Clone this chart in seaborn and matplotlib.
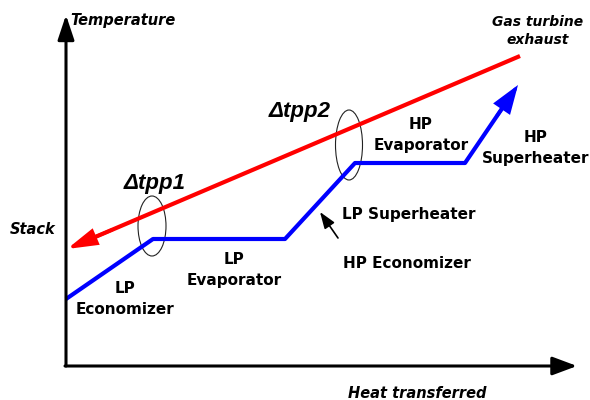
import matplotlib
matplotlib.use("Agg")
import matplotlib.pyplot as plt
import seaborn as sns
import pandas as pd
from matplotlib.patches import Ellipse

# ---- data (heat transferred vs temperature, arbitrary units) ----
gas_heat = [454, 1]          # gas turbine exhaust -> stack
gas_temp = [310, 117]
steam_heat = [0, 87, 219, 289, 399, 452]
steam_temp = [67, 127, 127, 203, 203, 281]
pinch_heat = [86, 283]
pinch_temp = [140, 221]
pinch_w = [28, 27]
pinch_h = [60, 70]

sns.set_theme(style="white")
plt.rcParams['font.family'] = ['DejaVu Sans']

fig = plt.figure(figsize=(5.9, 4), dpi=100)
ax = fig.add_axes([0, 0, 1, 1])
ax.set_xlim(-66, 524)
ax.set_ylim(-34, 366)
ax.axis('off')

def trim(xs, ys, frac):
    # end the line a little before the tip so the arrowhead covers it
    x0, y0, x1, y1 = xs[-2], ys[-2], xs[-1], ys[-1]
    return xs[:-1] + [x1 - (x1 - x0) * frac], ys[:-1] + [y1 - (y1 - y0) * frac]

gx, gy = trim(gas_heat, gas_temp, 0.03)
sx, sy = trim(steam_heat, steam_temp, 0.2)
sns.lineplot(x=gx, y=gy, sort=False, color="#ff0000", lw=3.0, ax=ax,
             solid_capstyle="butt", estimator=None)
sns.lineplot(x=sx, y=sy, sort=False, color="#0000ff", lw=3.0, ax=ax,
             solid_capstyle="butt", estimator=None)

def head(xs, ys, color, back=0.08, hl=0.8, hw=0.28):
    x0, y0, x1, y1 = xs[-2], ys[-2], xs[-1], ys[-1]
    start = (x1 - (x1 - x0) * back, y1 - (y1 - y0) * back)
    ax.annotate("", xy=(x1, y1), xytext=start,
                arrowprops=dict(arrowstyle=f"-|>,head_length={hl},head_width={hw}",
                                mutation_scale=20, color=color, lw=2.5,
                                shrinkA=0, shrinkB=0, joinstyle="miter"))

head(gas_heat, gas_temp, "#ff0000", back=0.1, hl=0.85, hw=0.24)
head(steam_heat, steam_temp, "#0000ff", back=0.4, hl=0.8, hw=0.28)

# axes with arrows
ax.annotate("", xy=(0, 351), xytext=(0, 0),
            arrowprops=dict(arrowstyle="-|>,head_length=0.75,head_width=0.25",
                            mutation_scale=20, color="black", lw=2.2,
                            shrinkA=0, shrinkB=0))
ax.annotate("", xy=(511, 0), xytext=(-1, 0),
            arrowprops=dict(arrowstyle="-|>,head_length=0.75,head_width=0.28",
                            mutation_scale=20, color="black", lw=2.2,
                            shrinkA=0, shrinkB=0))

for hx, ty, w, h in zip(pinch_heat, pinch_temp, pinch_w, pinch_h):
    ax.add_patch(Ellipse((hx, ty), w, h, fill=False, ec="#222222", lw=0.8))

bi = dict(fontweight="bold", fontstyle="italic", color="black")
b = dict(fontweight="bold", color="black")
fs = 11
fi = 10.5
ax.text(4, 346, "Temperature", ha="left", va="center", fontsize=fi, **bi)
ax.text(472, 335, "Gas turbine\nexhaust", ha="center", va="center",
        fontsize=10, linespacing=1.45, **bi)
ax.text(89, 183, "Δtpp1", ha="center", va="center", fontsize=16,
        family="Liberation Sans", **bi)
ax.text(234, 255, "Δtpp2", ha="center", va="center", fontsize=16,
        family="Liberation Sans", **bi)
ax.text(355, 231, "HP\nEvaporator", ha="center", va="center", fontsize=fs,
        linespacing=1.45, **b)
ax.text(470, 218, "HP\nSuperheater", ha="center", va="center", fontsize=fs,
        linespacing=1.45, **b)
ax.text(276, 151, "LP Superheater", ha="left", va="center", fontsize=fs, **b)
ax.text(277, 103, "HP Economizer", ha="left", va="center", fontsize=fs, **b)
ax.annotate("", xy=(254, 154), xytext=(272, 128),
            arrowprops=dict(arrowstyle="-|>,head_length=0.5,head_width=0.18",
                            mutation_scale=20, color="black", lw=1.2,
                            shrinkA=0, shrinkB=0))
ax.text(-33, 136, "Stack", ha="center", va="center", fontsize=fi, **bi)
ax.text(59, 67, "LP\nEconomizer", ha="center", va="center", fontsize=fs,
        linespacing=1.45, **b)
ax.text(168, 96, "LP\nEvaporator", ha="center", va="center", fontsize=fs,
        linespacing=1.45, **b)
ax.text(351, -27, "Heat transferred", ha="center", va="center", fontsize=fi, **bi)

fig.savefig("out.png", dpi=100)
